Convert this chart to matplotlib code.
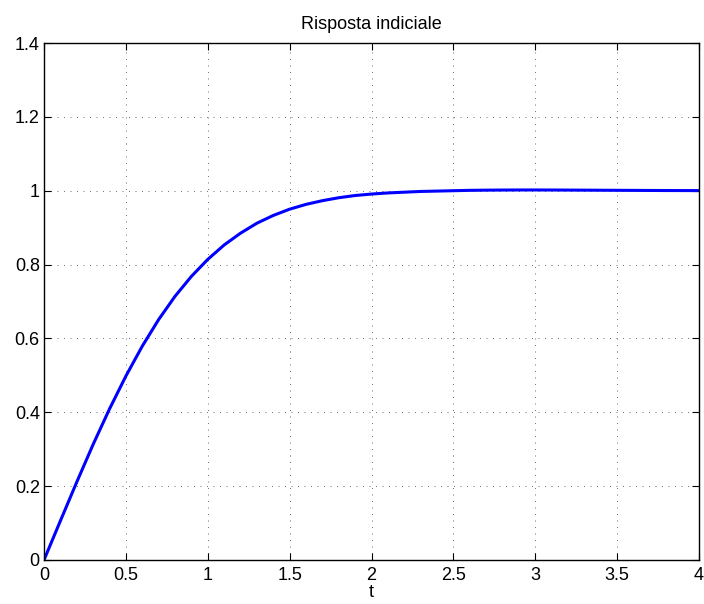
import matplotlib
matplotlib.use("Agg")
import matplotlib.pyplot as plt

t_values = [0.0, 0.1, 0.2, 0.3, 0.4, 0.5, 0.6, 0.7, 0.8, 0.9,
            1.0, 1.1, 1.2, 1.3, 1.4, 1.5, 1.6, 1.7, 1.8, 1.9,
            2.0, 2.1, 2.2, 2.3, 2.4, 2.5, 2.6, 2.7, 2.8, 2.9,
            3.0, 3.1, 3.2, 3.3, 3.4, 3.5, 3.6, 3.7, 3.8, 3.9, 4.0]
y_values = [0.000, 0.106, 0.211, 0.313, 0.409, 0.498, 0.579, 0.651, 0.714, 0.768,
            0.814, 0.853, 0.885, 0.912, 0.933, 0.950, 0.963, 0.973, 0.981, 0.987,
            0.991, 0.994, 0.996, 0.998, 0.999, 1.000, 1.0010, 1.0015, 1.0018, 1.0020,
            1.0020, 1.0019, 1.0017, 1.0015, 1.0013, 1.0011, 1.0009, 1.0007, 1.0005, 1.0004, 1.0003]
x_ticks = [0, 0.5, 1, 1.5, 2, 2.5, 3, 3.5, 4]
x_tick_labels = ["0", "0.5", "1", "1.5", "2", "2.5", "3", "3.5", "4"]
y_ticks = [0, 0.2, 0.4, 0.6, 0.8, 1.0, 1.2, 1.4]
y_tick_labels = ["0", "0.2", "0.4", "0.6", "0.8", "1", "1.2", "1.4"]
title_text = "Risposta indiciale"
xlabel_text = "t"

plt.rcParams['font.family'] = ['Liberation Sans', 'DejaVu Sans']

fig = plt.figure(figsize=(7.04, 6.04), dpi=100)
ax = fig.add_axes([44/704, 44/604, (699-44)/704, (560-43)/604])

ax.plot(t_values, y_values, color=(0, 0, 1), linewidth=2.2,
        solid_capstyle='round', solid_joinstyle='round')

ax.set_xlim(0, 4)
ax.set_ylim(0, 1.4)
ax.set_xticks(x_ticks)
ax.set_xticklabels(x_tick_labels)
ax.set_yticks(y_ticks)
ax.set_yticklabels(y_tick_labels)

ax.tick_params(direction='in', length=5, width=0.8, top=True, right=True,
               labelsize=13, colors='black')
ax.tick_params(axis='x', pad=5)
ax.tick_params(axis='y', pad=3)

for s in ax.spines.values():
    s.set_linewidth(1.0)
    s.set_color('black')

ax.grid(True, color='0.35', linewidth=0.6, linestyle=(0, (1.2, 6.6)))
ax.set_axisbelow(True)

ax.set_title(title_text, fontsize=13, pad=10)
ax.set_xlabel(xlabel_text, fontsize=13, labelpad=0)

fig.savefig("out.png", dpi=100)
